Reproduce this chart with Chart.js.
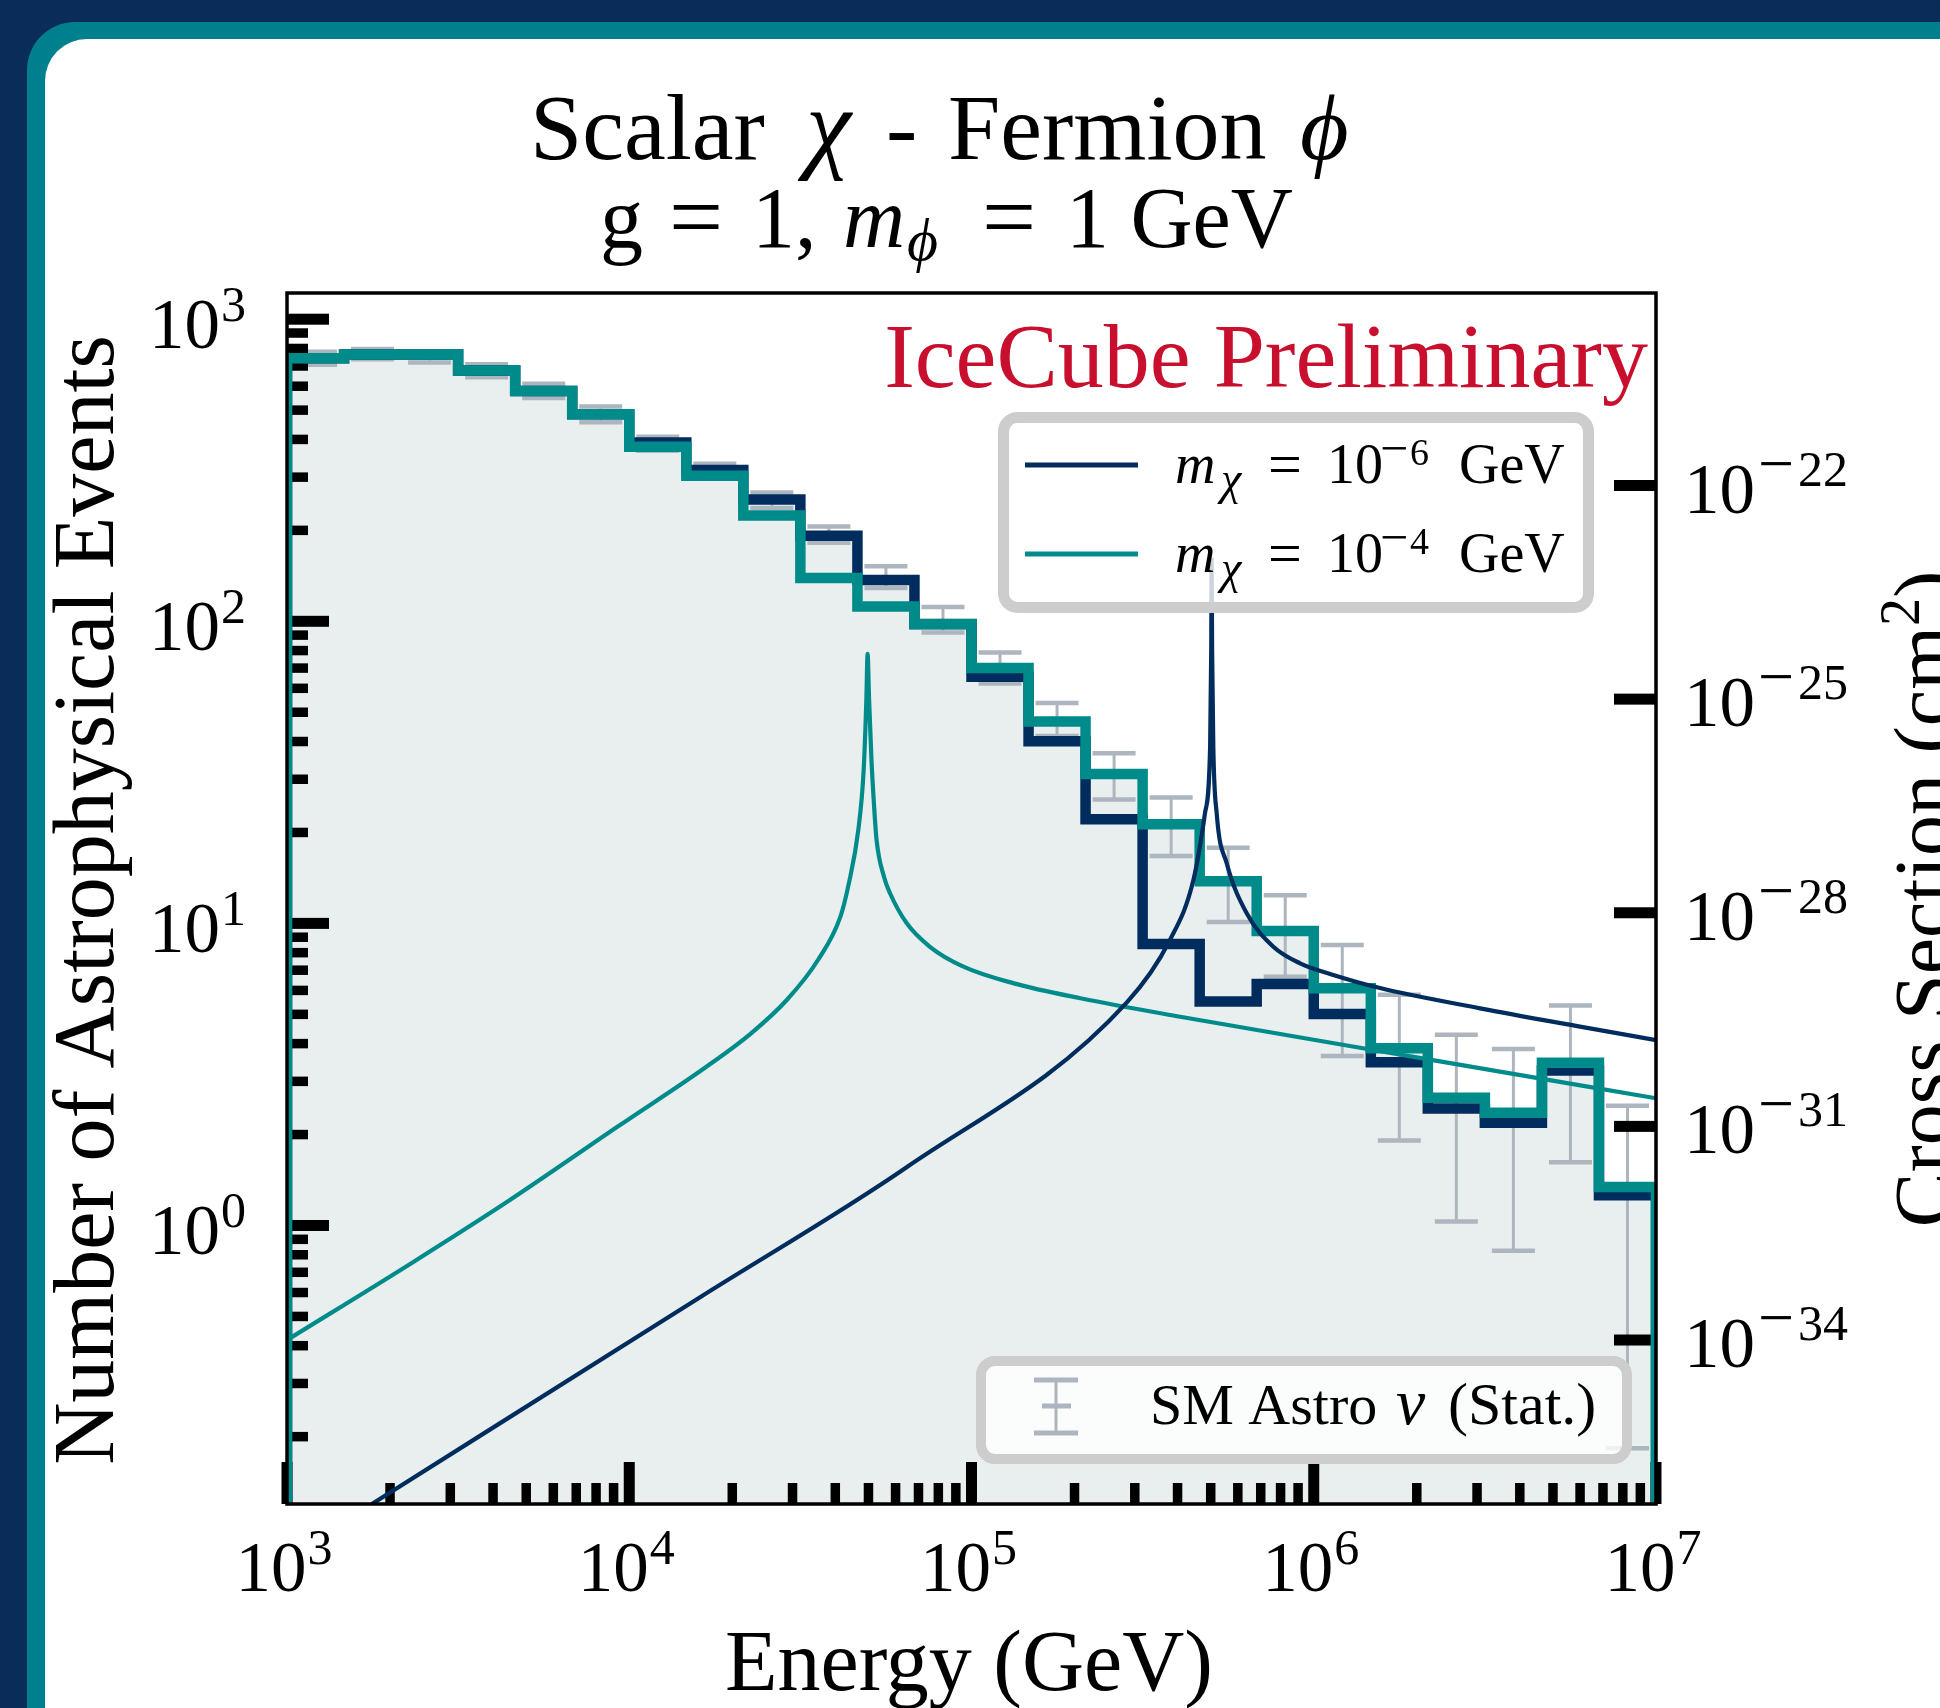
<!DOCTYPE html>
<html lang="en">
<head>
<meta charset="utf-8">
<title>Scalar χ - Fermion ϕ</title>
<script src="https://cdn.jsdelivr.net/npm/chart.js@4.4.1/dist/chart.umd.min.js"></script>
<style>
  html, body { margin: 0; padding: 0; }
  body { width: 1940px; height: 1708px; overflow: hidden; position: relative; background: #0a2c58; }
  .frame { position: absolute; left: 27px; top: 22px; width: 2000px; height: 1800px; background: #007f8e; border-top-left-radius: 48px; }
  .panel { position: absolute; left: 45px; top: 39px; width: 2000px; height: 1800px; background: #ffffff; border-top-left-radius: 42px; }
  #eventsChart { position: absolute; left: 0; top: 0; }
</style>
</head>
<body>
<div class="frame"></div>
<div class="panel"></div>
<canvas id="eventsChart" width="1940" height="1708"></canvas>
<script>
// Energy bin edges (GeV), six bins per decade
const binEdges = [
  1.000e3, 1.468e3, 2.154e3, 3.162e3, 4.642e3, 6.813e3,
  1.000e4, 1.468e4, 2.154e4, 3.162e4, 4.642e4, 6.813e4,
  1.000e5, 1.468e5, 2.154e5, 3.162e5, 4.642e5, 6.813e5,
  1.000e6, 1.468e6, 2.154e6, 3.162e6, 4.642e6, 6.813e6,
  1.000e7
];

// SM astrophysical expectation per bin, with its statistical band
const smCounts = [743, 767, 748, 676, 579, 485, 388, 315, 252, 194, 140, 101, 70.5, 47.6, 31.0, 21.3, 13.9, 9.5, 6.1, 3.86, 2.65, 2.33, 3.46, 1.34];
const smLow    = [706, 737, 719, 643, 548, 456, 367, 298, 237, 182, 129, 91.9, 62.2, 41.7, 25.7, 16.7, 10.1, 6.66, 3.64, 1.91, 1.03, 0.825, 1.62, 0.183];
const smHigh   = [780, 797, 777, 709, 611, 514, 408, 332, 267, 206, 152, 111.5, 78.9, 53.6, 36.6, 26.1, 17.8, 12.4, 8.48, 5.80, 4.28, 3.84, 5.35, 2.49];

// Events with the new interaction, for the two chi masses
const countsMx1e6 = [743, 764, 764, 676, 579, 485, 391, 317, 253, 192, 137, 98, 65.5, 40.1, 22.1, 8.54, 5.51, 6.30, 5.01, 3.47, 2.44, 2.19, 3.26, 1.26];
const countsMx1e4 = [743, 764, 764, 676, 579, 485, 378, 303, 224, 139, 112, 97.7, 70.1, 46.6, 31.2, 21.3, 13.8, 9.44, 6.10, 3.86, 2.65, 2.36, 3.46, 1.34];

// Cross section (cm^2) against energy (GeV), m_chi = 1e-6 GeV
const sigmaEnergyMx1e6 = [1.77e3, 1.632e4, 6.48e4, 2.84e5, 3.80e5, 4.45e5, 4.81e5, 4.98e5, 5.017e5,
  5.03e5, 5.047e5, 5.088e5, 5.205e5, 5.568e5, 6.37e5, 7.62e5, 9.12e5, 1.153e6, 1.562e6, 3.06e6, 6.0e6, 1.0e7];
const sigmaMx1e6 = [4.98e-37, 4.16e-34, 2.69e-32, 5.46e-30, 4.14e-29, 2.88e-28, 2.49e-27, 2.15e-26, 4.90e-25,
  9.0e-24, 4.90e-25, 2.15e-26, 2.49e-27, 4.95e-28, 9.82e-29, 3.33e-29, 1.95e-29, 1.32e-29, 8.77e-30, 4.55e-30, 2.52e-30, 1.63e-30];

// Cross section (cm^2) against energy (GeV), m_chi = 1e-4 GeV
const sigmaEnergyMx1e4 = [1.0e3, 2.34e3, 4.48e3, 9.21e3, 1.68e4, 2.27e4, 2.886e4, 3.56e4, 4.14e4, 4.37e4, 4.67e4, 4.84e4, 4.93e4,
  4.97e4, 5.02e4, 5.10e4, 5.19e4, 5.28e4, 5.555e4, 5.78e4, 6.47e4, 7.56e4, 9.47e4, 1.33e5, 2.08e5, 4.07e5, 2.14e6, 1.0e7];
const sigmaMx1e4 = [1.0e-34, 1.25e-33, 9.25e-33, 9.79e-32, 6.89e-31, 2.03e-30, 5.96e-30, 2.17e-29, 8.81e-29, 2.44e-28, 1.46e-27, 9.95e-27, 9.95e-26,
  4.34e-25, 1.0e-25, 1.46e-26, 3.26e-27, 1.05e-27, 3.15e-28, 1.88e-28, 7.11e-29, 3.33e-29, 1.75e-29, 1.02e-29, 6.30e-30, 3.47e-30, 8.81e-31, 2.48e-31];

// Ticks and their labels
const xMajorTicks = [1e3, 1e4, 1e5, 1e6, 1e7];
const xTickExponents = ['3', '4', '5', '6', '7'];
const yMajorTicks = [1, 10, 100, 1000];
const yTickExponents = ['0', '1', '2', '3'];
const sigmaTicks = [1e-22, 1e-25, 1e-28, 1e-31, 1e-34];
const sigmaTickExponents = ['22', '25', '28', '31', '34'];
const minorSteps = [2, 3, 4, 5, 6, 7, 8, 9];

const Y_MIN = 0.1197, Y_MAX = 1221;
const SIGMA_MIN = 4.98e-37, SIGMA_MAX = 5.05e-20;
const FLOOR = 1e-3;

const NAVY = '#012d5e';
const TEAL = '#008b8b';
const FILL = '#e9efef';
const ERR = '#adb5bf';
const SERIF = '"Liberation Serif", "DejaVu Serif", serif';
const font = (size, style) => (style ? style + ' ' : '') + size + 'px ' + SERIF;

function stepPoints(counts, closed) {
  const last = binEdges.length - 1;
  const pts = [];
  if (closed) pts.push({ x: binEdges[0], y: FLOOR });
  counts.forEach((c, i) => pts.push({ x: binEdges[i], y: c }));
  pts.push({ x: binEdges[last], y: counts[counts.length - 1] });
  if (closed) pts.push({ x: binEdges[last], y: FLOOR });
  return pts;
}

function minorTicks(decades) {
  const out = [];
  decades.forEach(d => minorSteps.forEach(m => out.push(d * m)));
  return out;
}

// draws a run of text pieces (base text, sub/superscripts) one after another
function drawRun(ctx, pieces, x, y, align) {
  let total = 0;
  pieces.forEach(p => { ctx.font = p.font; p.w = ctx.measureText(p.t).width; total += (p.gap || 0) + p.w; });
  let cx = align === 'center' ? x - total / 2 : align === 'right' ? x - total : x;
  ctx.textAlign = 'left';
  pieces.forEach(p => {
    cx += p.gap || 0;
    ctx.font = p.font;
    ctx.fillText(p.t, cx, y + (p.dy || 0));
    cx += p.w;
  });
}

// pieces placed at fixed x positions on a common baseline
function drawPlaced(ctx, pieces, y) {
  ctx.textAlign = 'left';
  pieces.forEach(p => {
    ctx.font = p.font;
    ctx.fillText(p.t, p.x, y + (p.dy || 0));
  });
}

function drawErrorBars(chart) {
  const { ctx, chartArea: a, scales: { x, y } } = chart;
  ctx.save();
  ctx.beginPath();
  ctx.rect(a.left, a.top, a.right - a.left, a.bottom - a.top);
  ctx.clip();
  ctx.strokeStyle = ERR;
  ctx.lineCap = 'butt';
  smCounts.forEach((c, i) => {
    const xc = (x.getPixelForValue(binEdges[i]) + x.getPixelForValue(binEdges[i + 1])) / 2;
    const yl = y.getPixelForValue(smLow[i]);
    const yh = y.getPixelForValue(smHigh[i]);
    ctx.lineWidth = 3;
    ctx.beginPath();
    ctx.moveTo(xc, yl);
    ctx.lineTo(xc, yh);
    ctx.stroke();
    ctx.lineWidth = 4.5;
    ctx.beginPath();
    ctx.moveTo(xc - 21.5, yh); ctx.lineTo(xc + 21.5, yh);
    ctx.moveTo(xc - 21.5, yl); ctx.lineTo(xc + 21.5, yl);
    ctx.stroke();
  });
  ctx.restore();
}

// inward tick marks on the bottom, left and right axes
function drawTicks(chart) {
  const { ctx, chartArea: a, scales } = chart;
  ctx.save();
  ctx.fillStyle = '#000';
  minorTicks([1e3, 1e4, 1e5, 1e6]).forEach(v => {
    const px = scales.x.getPixelForValue(v);
    ctx.fillRect(px - 4.75, a.bottom - 21, 9.5, 21);
  });
  xMajorTicks.forEach(v => {
    const px = scales.x.getPixelForValue(v);
    ctx.fillRect(px - 5.5, a.bottom - 42, 11, 42);
  });
  minorTicks([0.1, 1, 10, 100, 1000]).forEach(v => {
    if (v < Y_MIN || v > Y_MAX) return;
    const py = scales.y.getPixelForValue(v);
    ctx.fillRect(a.left, py - 4.75, 21, 9.5);
  });
  yMajorTicks.forEach(v => {
    const py = scales.y.getPixelForValue(v);
    ctx.fillRect(a.left, py - 5.5, 42, 11);
  });
  sigmaTicks.forEach(v => {
    const py = scales.y1.getPixelForValue(v);
    ctx.fillRect(a.right - 42, py - 5.5, 42, 11);
  });
  ctx.restore();
}

function legendBox(ctx, x, y, w, h, lw) {
  ctx.save();
  ctx.beginPath();
  ctx.roundRect(x, y, w, h, 14);
  ctx.fillStyle = 'rgba(255,255,255,0.8)';
  ctx.fill();
  ctx.lineWidth = lw;
  ctx.strokeStyle = '#cdcdcd';
  ctx.stroke();
  ctx.restore();
}

function drawLegends(chart) {
  const ctx = chart.ctx;
  // model legend
  legendBox(ctx, 1003.5, 417.5, 585, 190, 11);
  const rows = [
    { color: NAVY, exp: '6', y: 465, base: 483 },
    { color: TEAL, exp: '4', y: 554, base: 572 }
  ];
  ctx.save();
  rows.forEach(r => {
    ctx.strokeStyle = r.color;
    ctx.lineWidth = 5;
    ctx.beginPath();
    ctx.moveTo(1025, r.y);
    ctx.lineTo(1138, r.y);
    ctx.stroke();
    ctx.fillStyle = '#000';
    drawPlaced(ctx, [
      { t: 'm', font: font(56, 'italic'), x: 1175 },
      { t: 'χ', font: font(46, 'italic'), x: 1221, dy: 11 },
      { t: '=', font: font(60), x: 1268, dy: 1 },
      { t: '10', font: font(56), x: 1327 },
      { t: '−', font: font(50), x: 1380, dy: -18 },
      { t: r.exp, font: font(38), x: 1410, dy: -18 },
      { t: 'GeV', font: font(56), x: 1459 }
    ], r.base);
  });
  ctx.restore();

  // SM legend
  legendBox(ctx, 981, 1361, 646, 98, 10);
  ctx.save();
  ctx.strokeStyle = ERR;
  ctx.lineWidth = 3;
  ctx.beginPath();
  ctx.moveTo(1056, 1380); ctx.lineTo(1056, 1433);
  ctx.stroke();
  ctx.lineWidth = 5;
  ctx.beginPath();
  ctx.moveTo(1034, 1380); ctx.lineTo(1078, 1380);
  ctx.moveTo(1034, 1433); ctx.lineTo(1078, 1433);
  ctx.moveTo(1042, 1406); ctx.lineTo(1071, 1406);
  ctx.stroke();
  ctx.fillStyle = '#000';
  drawPlaced(ctx, [
    { t: 'SM Astro', font: font(58), x: 1150 },
    { t: 'ν', font: font(66, 'italic'), x: 1396 },
    { t: '(Stat.)', font: font(60), x: 1448 }
  ], 1424);
  ctx.restore();
}

function drawFrame(chart) {
  const { ctx, chartArea: a } = chart;
  ctx.save();
  ctx.strokeStyle = '#000';
  ctx.lineWidth = 3.5;
  ctx.strokeRect(a.left, a.top, a.right - a.left, a.bottom - a.top);
  ctx.restore();
}

function drawTickLabels(chart) {
  const { ctx, scales } = chart;
  const base = font(71), sup = font(50);
  ctx.save();
  ctx.fillStyle = '#000';
  ctx.textBaseline = 'alphabetic';
  xMajorTicks.forEach((v, i) => {
    const px = scales.x.getPixelForValue(v) - 3;
    drawRun(ctx, [{ t: '10', font: base }, { t: xTickExponents[i], font: sup, dy: -27, gap: 1 }], px, 1591, 'center');
  });
  yMajorTicks.forEach((v, i) => {
    const py = scales.y.getPixelForValue(v);
    drawRun(ctx, [{ t: '10', font: base }, { t: yTickExponents[i], font: sup, dy: -27, gap: 1 }], 246, py + 29, 'right');
  });
  sigmaTicks.forEach((v, i) => {
    const py = scales.y1.getPixelForValue(v);
    drawRun(ctx, [
      { t: '10', font: base },
      { t: '−', font: font(64), dy: -28, gap: 3 },
      { t: sigmaTickExponents[i], font: sup, dy: -27, gap: 4 }
    ], 1684, py + 27, 'left');
  });
  ctx.restore();
}

function drawTitles(chart) {
  const ctx = chart.ctx;
  ctx.save();
  ctx.fillStyle = '#000';
  ctx.textBaseline = 'alphabetic';
  drawPlaced(ctx, [
    { t: 'Scalar', font: font(94), x: 530 },
    { t: 'χ', font: font(102, 'italic'), x: 806 },
    { t: '-', font: font(94), x: 886 },
    { t: 'Fermion', font: font(94), x: 948 },
    { t: 'ϕ', font: font(94, 'italic'), x: 1300 }
  ], 159);
  drawPlaced(ctx, [
    { t: 'g', font: font(86), x: 600 },
    { t: '=', font: font(96), x: 669, dy: 2 },
    { t: '1,', font: font(86), x: 752 },
    { t: 'm', font: font(86, 'italic'), x: 843 },
    { t: 'ϕ', font: font(60, 'italic'), x: 907, dy: 13 },
    { t: '=', font: font(96), x: 982, dy: 2 },
    { t: '1 GeV', font: font(86), x: 1066 }
  ], 247);

  ctx.fillStyle = '#c8102e';
  ctx.font = font(92);
  ctx.textAlign = 'right';
  ctx.fillText('IceCube Preliminary', 1648, 387);

  ctx.fillStyle = '#000';
  ctx.font = font(86);
  ctx.textAlign = 'center';
  ctx.fillText('Energy (GeV)', 969, 1690);

  ctx.save();
  ctx.translate(113, 900);
  ctx.rotate(-Math.PI / 2);
  ctx.font = font(86);
  ctx.textAlign = 'center';
  ctx.fillText('Number of Astrophysical Events', 0, 0);
  ctx.restore();

  ctx.save();
  ctx.translate(1951, 899);
  ctx.rotate(-Math.PI / 2);
  drawRun(ctx, [
    { t: 'Cross Section (cm', font: font(82) },
    { t: '2', font: font(56), dy: -32 },
    { t: ')', font: font(82) }
  ], 0, 0, 'center');
  ctx.restore();
  ctx.restore();
}

const decorations = {
  id: 'decorations',
  afterDatasetDraw(chart, args) {
    // error bars and ticks sit between the SM fill and the histograms
    if (args.index !== 0) return;
    drawErrorBars(chart);
    drawTicks(chart);
  },
  afterDraw(chart) {
    drawLegends(chart);
    drawFrame(chart);
    drawTickLabels(chart);
    drawTitles(chart);
  }
};

const ctx = document.getElementById('eventsChart').getContext('2d');

new Chart(ctx, {
  type: 'line',
  data: {
    datasets: [
      {
        label: 'SM Astro ν (Stat.)',
        data: stepPoints(smCounts, false),
        stepped: 'before',
        fill: 'start',
        backgroundColor: FILL,
        borderColor: 'rgba(0,0,0,0)',
        borderWidth: 0,
        clip: 0,
        order: 6
      },
      {
        label: 'm_χ = 10^-6 GeV',
        data: stepPoints(countsMx1e6, true),
        stepped: 'before',
        borderColor: NAVY,
        borderWidth: 10.5,
        borderJoinStyle: 'miter',
        borderCapStyle: 'butt',
        fill: false,
        clip: 0,
        order: 5
      },
      {
        label: 'm_χ = 10^-4 GeV',
        data: stepPoints(countsMx1e4, true),
        stepped: 'before',
        borderColor: TEAL,
        borderWidth: 10.5,
        borderJoinStyle: 'miter',
        borderCapStyle: 'butt',
        fill: false,
        clip: 0,
        order: 4
      },
      {
        label: 'σ, m_χ = 10^-4 GeV',
        data: sigmaEnergyMx1e4.map((e, i) => ({ x: e, y: sigmaMx1e4[i] })),
        yAxisID: 'y1',
        borderColor: TEAL,
        borderWidth: 4.2,
        cubicInterpolationMode: 'monotone',
        fill: false,
        clip: 0,
        order: 3
      },
      {
        label: 'σ, m_χ = 10^-6 GeV',
        data: sigmaEnergyMx1e6.map((e, i) => ({ x: e, y: sigmaMx1e6[i] })),
        yAxisID: 'y1',
        borderColor: NAVY,
        borderWidth: 4.2,
        cubicInterpolationMode: 'monotone',
        fill: false,
        clip: 0,
        order: 2
      }
    ]
  },
  options: {
    responsive: false,
    animation: false,
    devicePixelRatio: 1,
    events: [],
    layout: { padding: { left: 287, top: 293, right: 284, bottom: 204 } },
    elements: { point: { radius: 0 } },
    plugins: {
      legend: { display: false },
      tooltip: { enabled: false },
      title: { display: false }
    },
    scales: {
      x: { type: 'logarithmic', min: 1e3, max: 1e7, display: false },
      y: { type: 'logarithmic', min: Y_MIN, max: Y_MAX, display: false },
      y1: { type: 'logarithmic', position: 'right', min: SIGMA_MIN, max: SIGMA_MAX, display: false }
    }
  },
  plugins: [decorations]
});
</script>
</body>
</html>
